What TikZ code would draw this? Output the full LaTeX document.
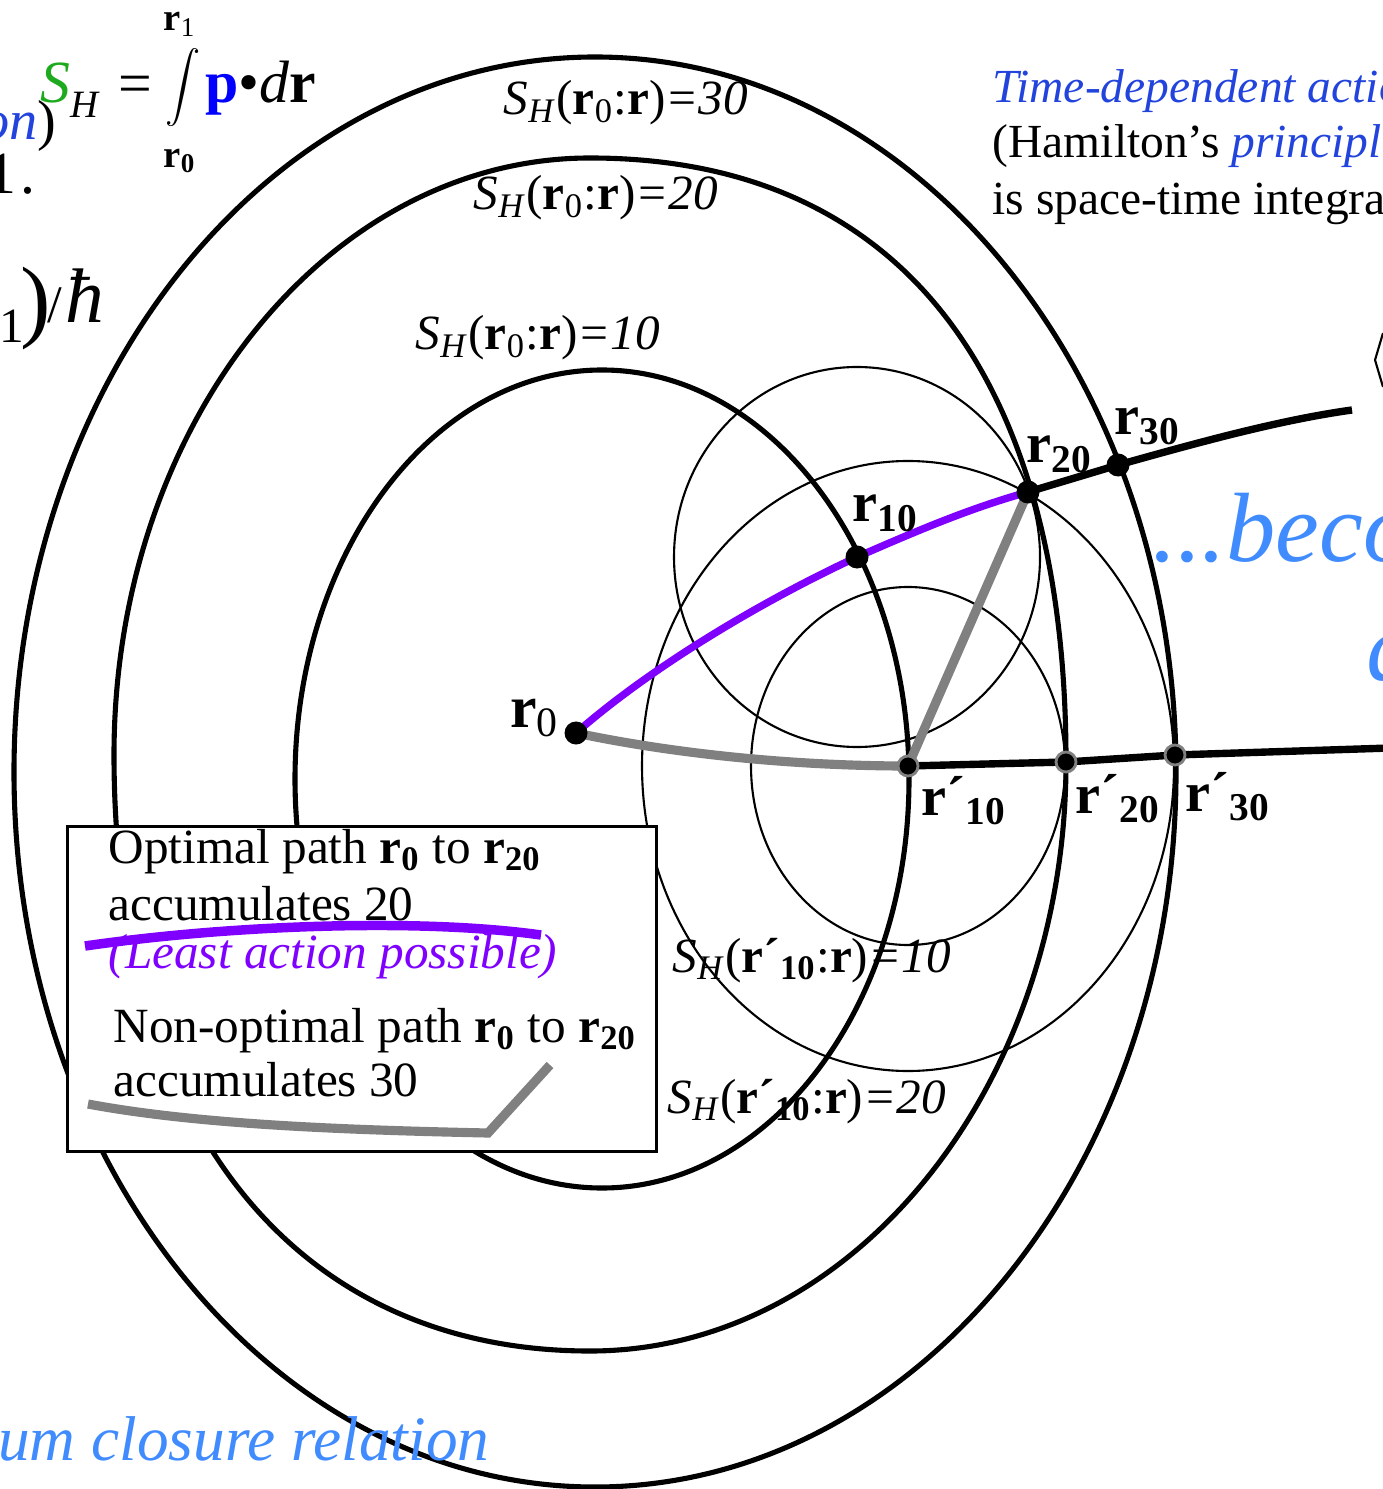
\documentclass[tikz,border=0pt]{standalone}
\usepackage{fontspec}
\setmainfont{Liberation Serif}
\usepackage{xcolor}
\usepackage{tikz}

\definecolor{leastviolet}{RGB}{128,0,255}
\definecolor{pathgray}{RGB}{128,128,128}
\definecolor{titleblue}{RGB}{34,68,221}
\definecolor{noteblue}{RGB}{64,140,255}
\definecolor{actgreen}{RGB}{30,170,30}
\definecolor{pblue}{RGB}{0,0,255}

\newcommand{\fsz}[1]{\fontsize{#1}{#1}\selectfont}
\newcommand{\SHlab}[2]{\textit{S}\textsubscript{\textit{H}}(#1:\textbf{r})\textit{=#2}}

\begin{document}
\begin{tikzpicture}[
    x=0.01cm, y=-0.01cm,
    contour/.style={line width=1.45pt},
    wave/.style={line width=0.6pt},
    dot/.style={circle, fill=black, inner sep=0pt, minimum size=0.23cm},
    primedot/.style={circle, fill=black, draw=pathgray, line width=0.8pt, inner sep=0pt, minimum size=0.2cm},
    lab/.style={inner sep=0pt, anchor=base west, font=\fsz{14}},
    rlab/.style={inner sep=0pt, anchor=base west, font=\fsz{16}\bfseries},
    note/.style={inner sep=0pt, anchor=base west, font=\fsz{14}},
    bignote/.style={inner sep=0pt, anchor=base west, font=\fsz{28}\itshape, text=noteblue}
  ]
  \useasboundingbox (0,0) rectangle (1383,1489);
  \clip (0,0) rectangle (1383,1489);

  % points on the action contours
  \coordinate (r0) at (576,733);
  \coordinate (r10) at (857,557);
  \coordinate (r20) at (1028,492);
  \coordinate (r30) at (1118,465);
  \coordinate (q10) at (908,766);
  \coordinate (q20) at (1066,762);
  \coordinate (q30) at (1175,755);
  \coordinate (upEnd) at (1352,410);
  \coordinate (lowEnd) at (1390,748);

  % contours S_H(r0:r)
  \draw[contour] (595,772) ellipse [x radius=581, y radius=715];
  \draw[contour] (590,158) .. controls (899,158) and (1066,374) .. (1066,762)
    .. controls (1066,1087) and (853,1351) .. (590,1351)
    .. controls (295,1351) and (114,1125) .. (114,755)
    .. controls (114,425) and (327,158) .. cycle;
  \draw[contour] (602,779) ellipse [x radius=307, y radius=409];

  % wavelets
  \draw[wave] (r10) ellipse [x radius=183, y radius=190];
  \draw[wave] (q10) ellipse [x radius=157, y radius=179];
  \draw[wave] (q10) ellipse [x radius=266, y radius=305];

  % legend
  \node[draw, fill=white, line width=0.8pt, anchor=north west, minimum width=5.89cm, minimum height=3.25cm, inner sep=0pt] (legend) at (66,825) {};

  % paths
  \draw[line width=2.1pt] (q10) -- (q20) -- (q30) -- (lowEnd);
  \draw[line width=2.1pt] (r20) -- (r30) .. controls (1200,442) and (1280,420) .. (upEnd);
  \draw[line width=2.6pt, pathgray] (r0) .. controls (680,755) and (800,766) .. (q10) -- (r20);
  \draw[line width=2.1pt, leastviolet] (r0) .. controls (650,668) and (760,602) .. (r10) .. controls (930,525) and (975,507) .. (r20);

  \node[dot] (d0) at (r0) {};
  \node[dot] (d10) at (r10) {};
  \node[dot] (d20) at (r20) {};
  \node[dot] (d30) at (r30) {};
  \node[primedot] (e10) at (q10) {};
  \node[primedot] (e20) at (q20) {};
  \node[primedot] (e30) at (q30) {};

  % point labels
  \node[rlab, anchor=base east, font=\fsz{17}\bfseries] (r0lab) at (560,727) {r\textmd{\textsubscript{0}}};
  \node[rlab] (r10lab) at (852,522) {r\textsubscript{10}};
  \node[rlab] (r20lab) at (1026,463) {r\textsubscript{20}};
  \node[rlab] (r30lab) at (1114,435) {r\textsubscript{30}};
  \node[rlab] (q10lab) at (921,815) {r´\textsubscript{10}};
  \node[rlab] (q20lab) at (1075,813) {r´\textsubscript{20}};
  \node[rlab] (q30lab) at (1185,811) {r´\textsubscript{30}};

  % contour labels
  \node[lab] (c30lab) at (503,115) {\SHlab{\textbf{r}\textsubscript{0}}{30}};
  \node[lab] (c20lab) at (473,210) {\SHlab{\textbf{r}\textsubscript{0}}{20}};
  \node[lab] (c10lab) at (415,350) {\SHlab{\textbf{r}\textsubscript{0}}{10}};
  \node[lab] (w10lab) at (672,972) {\SHlab{\textbf{r´\textsubscript{10}}}{10}};
  \node[lab] (w20lab) at (667,1113) {\SHlab{\textbf{r´\textsubscript{10}}}{20}};

  % legend text
  \node[note] (optA) at (108,863) {Optimal path \textbf{r\textsubscript{0}} to \textbf{r\textsubscript{20}}};
  \node[note] (optB) at (108,920) {accumulates 20};
  \node[note, text=leastviolet] (optC) at (108,968) {\textit{(Least action possible)}};
  \node[note] (nonA) at (113,1042) {Non-optimal path \textbf{r\textsubscript{0}} to \textbf{r\textsubscript{20}}};
  \node[note] (nonB) at (113,1096) {accumulates 30};
  \draw[line width=2.7pt, leastviolet] (85,946) .. controls (230,925) and (420,918) .. (541,935);
  \draw[line width=2.6pt, pathgray] (88,1104) .. controls (200,1125) and (350,1130) .. (488,1133) -- (550,1065);

  % action integral
  \node[inner sep=0pt, anchor=base west, font=\fsz{17}\itshape, text=actgreen] (formS) at (40,103) {S};
  \node[inner sep=0pt, anchor=base west, font=\fsz{11}\itshape] (formH) at (70,118) {H};
  \node[inner sep=0pt, font=\fsz{17}] (formEq) at (135,90) {=};
  \node[inner sep=0pt, font=\fsz{14.5}] (formInt) at (183,88) {$\displaystyle\int$};
  \node[inner sep=0pt, font=\fsz{11}\bfseries] (formTop) at (180,24) {r\textmd{\textsubscript{1}}};
  \node[inner sep=0pt, font=\fsz{11}\bfseries] (formBot) at (180,161) {r\textsubscript{0}};
  \node[inner sep=0pt, anchor=base west, font=\fsz{17}] (formPdr) at (205,103) {\textcolor{pblue}{\textbf{p}}•\textit{d}\textbf{r}};

  % cut-off side text
  \node[inner sep=0pt, anchor=base east, font=\fsz{16}] (sideOn) at (57,140) {\textcolor{titleblue}{\textit{on}})};
  \node[inner sep=0pt, anchor=base east, font=\fsz{17}] (sideOne) at (36,194) {1\kern1pt.};
  \node[inner sep=0pt, anchor=base west, font=\fsz{14}] (sideSub) at (-1,343) {1};
  \node[inner sep=0pt, anchor=base west, font=\fsz{26}] (sideParen) at (20,331) {)};
  \node[inner sep=0pt, anchor=base west, font=\fsz{15}] (sideHbar) at (47,323) {/\kern1pt\fsz{22}\textit{ħ}};

  \node[inner sep=0pt, anchor=base west, font=\fsz{13.5}\itshape, text=titleblue] (tdA) at (992,103) {Time-dependent actio};
  \node[inner sep=0pt, anchor=base west, font=\fsz{13.5}] (tdB) at (992,158) {(Hamilton’s \textcolor{titleblue}{\textit{principl}}};
  \node[inner sep=0pt, anchor=base west, font=\fsz{13.5}] (tdC) at (992,215) {is space-time integra};
  \node[bignote] (becoNote) at (1152,562) {...beco};
  \node[bignote] (qNote) at (1366,680) {q};
  \node[inner sep=0pt, anchor=base east, font=\fsz{18}\itshape, text=noteblue] (closeNote) at (490,1460) {um closure relation};
  \draw[line width=0.6pt] (1383,333) -- (1375,360) -- (1383,387);
\end{tikzpicture}
\end{document}
